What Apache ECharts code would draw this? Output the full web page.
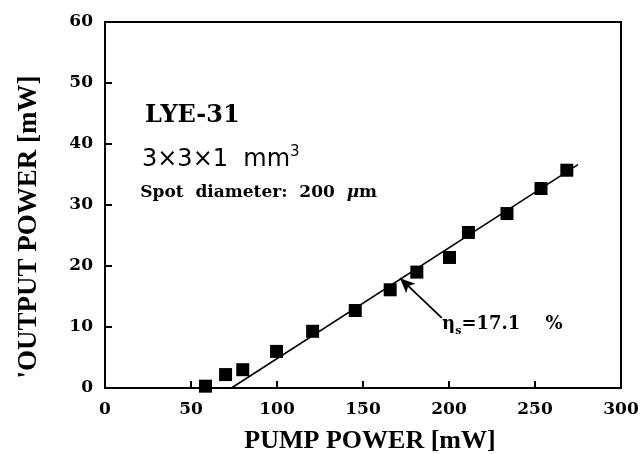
<!DOCTYPE html>
<html><head><meta charset="utf-8">
<script src="https://cdn.jsdelivr.net/npm/echarts@6/dist/echarts.min.js"></script>
<style>html,body{margin:0;padding:0;background:#fff}#c{width:640px;height:454px}</style>
</head><body><div id="c"></div>
<script>
const pumpPower = [58.4, 70.1, 80.1, 99.7, 120.7, 145.5, 165.8, 181.3, 200.3, 211.3, 233.7, 253.5, 268.5];
const outputPower = [0.3, 2.2, 3.0, 6.0, 9.3, 12.7, 16.1, 19.0, 21.4, 25.5, 28.6, 32.7, 35.7];
const fitX = [73.5, 275];
const fitY = [0, 36.6];
const xTicks = [0, 50, 100, 150, 200, 250, 300];
const yTicks = [0, 10, 20, 30, 40, 50, 60];
const arrowFrom = [195.8, 11.5];
const arrowTo = [171.5, 18.0];

const serif = 'Liberation Serif';
const wide = 'DejaVu Serif';
const chart = echarts.init(document.getElementById('c'));
const tickFont = {fontFamily: wide, fontWeight: 'bold', fontSize: 17, color: '#000'};
chart.setOption({
  animation: false,
  grid: {left: 105, right: 19, top: 22, bottom: 66, show: true, borderColor: '#000', borderWidth: 2, outerBoundsMode: 'none', containLabel: false},
  xAxis: {
    type: 'value', min: xTicks[0], max: xTicks[xTicks.length - 1], interval: 50,
    axisLine: {lineStyle: {color: '#000', width: 2}},
    axisTick: {inside: true, length: 7, lineStyle: {color: '#000', width: 2}},
    splitLine: {show: false},
    axisLabel: Object.assign({margin: 13, formatter: v => xTicks.includes(v) ? String(v) : ''}, tickFont),
    name: 'PUMP POWER [mW]', nameLocation: 'middle', nameGap: 40,
    nameTextStyle: {fontFamily: serif, fontWeight: 'bold', fontSize: 26, color: '#000', padding: [0, 0, 0, 14]}
  },
  yAxis: {
    type: 'value', min: yTicks[0], max: yTicks[yTicks.length - 1], interval: 10,
    axisLine: {lineStyle: {color: '#000', width: 2}},
    axisTick: {inside: true, length: 7, lineStyle: {color: '#000', width: 2}},
    splitLine: {show: false},
    axisLabel: Object.assign({margin: 12, formatter: v => yTicks.includes(v) ? String(v) : ''}, tickFont),
    name: "'OUTPUT POWER [mW]", nameLocation: 'middle', nameGap: 62,
    nameTextStyle: {fontFamily: serif, fontWeight: 'bold', fontSize: 27, color: '#000', padding: [0, 44, 0, 0]}
  },
  series: [
    {
      type: 'line', data: fitX.map((x, i) => [x, fitY[i]]), symbol: 'none',
      lineStyle: {color: '#000', width: 1.5}, z: 2,
      markLine: {
        silent: true, symbol: ['none', 'arrow'], symbolSize: [10, 15],
        lineStyle: {color: '#000', width: 1.8, type: 'solid'},
        label: {show: false},
        data: [[{coord: arrowFrom}, {coord: arrowTo}]]
      }
    },
    {
      type: 'scatter', data: pumpPower.map((x, i) => [x, outputPower[i]]),
      symbol: 'rect', symbolSize: 13, itemStyle: {color: '#000', opacity: 1}, z: 3
    },
    {
      type: 'scatter', symbolSize: 0, silent: true, itemStyle: {opacity: 1},
      data: [
        {value: [23.3, 44.7], label: {formatter: 'LYE-31', fontFamily: wide, fontWeight: 'bold', fontSize: 24}},
        {value: [21.5, 37.4], label: {formatter: '3×3×1  mm{sup|3}', fontFamily: 'DejaVu Sans', fontSize: 24,
          rich: {sup: {fontFamily: 'DejaVu Sans', fontSize: 15, verticalAlign: 'top', padding: [0, 0, 16, 0], color: '#000'}}}},
        {value: [20.5, 32.0], label: {formatter: 'Spot  diameter:  200  {i|μ}m', fontFamily: wide, fontWeight: 'bold', fontSize: 17,
          rich: {i: {fontFamily: wide, fontStyle: 'italic', fontWeight: 'bold', fontSize: 17, color: '#000'}}}},
        {value: [196.0, 10.5], label: {formatter: 'η{sub|s}=17.1    %', fontFamily: wide, fontWeight: 'bold', fontSize: 18,
          rich: {sub: {fontFamily: wide, fontWeight: 'bold', fontSize: 11, padding: [14, 0, 0, 0], color: '#000'}}}}
      ],
      label: {show: true, position: 'right', distance: 0, color: '#000', opacity: 1}
    }
  ]
});
</script></body></html>
